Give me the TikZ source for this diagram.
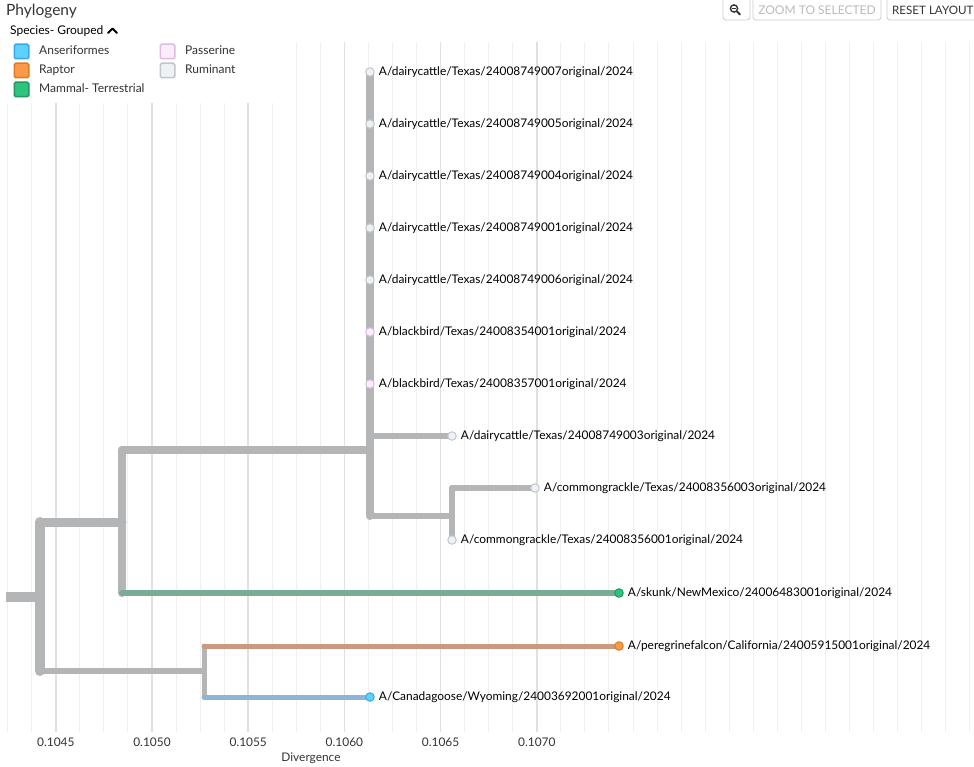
\documentclass[tikz,border=0pt]{standalone}
\usepackage{fontspec}
\setmainfont{Lato}
\usetikzlibrary{positioning}

\definecolor{textdark}{HTML}{333333}
\definecolor{branchgray}{HTML}{B4B5B7}
\definecolor{minorline}{HTML}{F0F0F0}
\definecolor{majorline}{HTML}{E0E0E0}
\definecolor{skunkbr}{HTML}{79AC94}
\definecolor{falconbr}{HTML}{C99A7E}
\definecolor{goosebr}{HTML}{8CB6D6}
\definecolor{anserfill}{HTML}{5ED1FC}
\definecolor{anserline}{HTML}{3BA8E8}
\definecolor{raptorfill}{HTML}{F89A48}
\definecolor{raptorline}{HTML}{E07A28}
\definecolor{mammalfill}{HTML}{2EC47E}
\definecolor{mammalline}{HTML}{1F9A5E}
\definecolor{passfill}{HTML}{FCEDFC}
\definecolor{passline}{HTML}{DDBDE2}
\definecolor{rumfill}{HTML}{EEF2F6}
\definecolor{rumline}{HTML}{C3C7CB}
\definecolor{btnline}{HTML}{CCCCCC}
\definecolor{btnoff}{HTML}{BBBBBB}

\tikzset{
  branch/.style={line width=#1, draw=branchgray, line cap=round},
  tipdot/.style 2 args={circle, fill=#1, draw=#2, line width=1pt, minimum size=8.5pt, inner sep=0pt},
  tiplbl/.style={font=\fontsize{11.9}{14}\selectfont, text=black, inner sep=0pt},
  swatch/.style 2 args={rectangle, rounded corners=1.5pt, fill=#1, draw=#2, line width=1.5pt, minimum size=14.5pt, inner sep=0pt},
  leglbl/.style={font=\fontsize{12}{14}\selectfont, text=textdark, inner sep=0pt, text height=8.5pt, text depth=2pt},
  btnbox/.style={draw=btnline, line width=0.8pt, rounded corners=3pt},
  btnlbl/.style={font=\fontsize{12}{14}\selectfont, inner sep=0pt}
}

\begin{document}
\begin{tikzpicture}[x=1pt,y=-1pt]
\useasboundingbox (0,0) rectangle (974,767);
\clip (0,0) rectangle (974,767);
\fill[white] (0,0) rectangle (974,767);

% grid
\foreach \i in {0,...,40} {
  \pgfmathsetmacro\gx{7.7+24.05*\i}
  \draw[minorline, line width=1pt] (\gx,42) -- (\gx,732);
}
\foreach \i/\val in {2/0.1045,6/0.1050,10/0.1055,14/0.1060,18/0.1065,22/0.1070} {
  \pgfmathsetmacro\gx{7.7+24.05*\i}
  \draw[majorline, line width=1.6pt] (\gx,42) -- (\gx,732);
  \node[tiplbl, text=textdark] (ax\i) at (\gx,742) {\val};
}
\node[tiplbl, text=textdark] (axtitle) at (311,758) {Divergence};

% legend background
\fill[white] (0,40) rectangle (290,103);

% title and legend
\node[anchor=base west, inner sep=0pt, text=textdark, font=\fontsize{15.5}{18}\selectfont] (title) at (6,16) {Phylogeny};
\node[anchor=base west, leglbl, text=black] (grp) at (10,35) {Species- Grouped};
\draw[black, line width=2pt, line cap=round, line join=round] (108,33) -- (112.5,28.5) -- (117,33);

\node[swatch={anserfill}{anserline}] (sw1) at (21.5,51.5) {};
\node[leglbl, right=9.5pt of sw1] (lg1) {Anseriformes};
\node[swatch={raptorfill}{raptorline}] (sw2) at (21.5,70.5) {};
\node[leglbl, right=9.5pt of sw2] (lg2) {Raptor};
\node[swatch={mammalfill}{mammalline}] (sw3) at (21.5,89.5) {};
\node[leglbl, right=9.5pt of sw3] (lg3) {Mammal- Terrestrial};
\node[swatch={passfill}{passline}] (sw4) at (167.5,51.5) {};
\node[leglbl, right=9.5pt of sw4] (lg4) {Passerine};
\node[swatch={rumfill}{rumline}] (sw5) at (167.5,70.5) {};
\node[leglbl, right=9.5pt of sw5] (lg5) {Ruminant};

% buttons
\draw[btnbox] (723,-4) rectangle (750,20);
\draw[textdark, line width=1.4pt] (734,8.5) circle (3.6);
\draw[textdark, line width=1.2pt] (732,8.5) -- (736,8.5);
\draw[textdark, line width=2pt, line cap=round] (737,11.5) -- (739.8,14.3);
\draw[btnbox] (753,-4) rectangle (881,20);
\node[btnlbl, text=btnoff] (zoomsel) at (817,10.5) {ZOOM TO SELECTED};
\draw[btnbox] (887,-4) rectangle (1000,20);
\node[btnlbl, text=textdark, anchor=west, font=\fontsize{11.6}{14}\selectfont] (reset) at (892,10.5) {RESET LAYOUT};

% tree points
\coordinate (r0) at (6,597);
\coordinate (nA) at (40,597);
\coordinate (nB) at (122,522);
\coordinate (nC) at (370,450);
\coordinate (nD) at (204,671);
\coordinate (nE) at (452,516);
\coordinate (t1) at (370,72);
\coordinate (t2) at (370,124);
\coordinate (t3) at (370,176);
\coordinate (t4) at (370,228);
\coordinate (t5) at (370,280);
\coordinate (t6) at (370,332);
\coordinate (t7) at (370,384);
\coordinate (t8) at (452,436);
\coordinate (t9) at (535,488);
\coordinate (t10) at (452,540);
\coordinate (t11) at (619,593);
\coordinate (t12) at (619,646);
\coordinate (t13) at (370,697);

% branches
\draw[branch=10pt, line cap=butt] (r0) -- (nA);
\draw[branch=10pt] (nA |- nB) -- (nA |- nD);
\draw[branch=9pt] (nA |- nB) -- (nB);
\draw[branch=8pt] (nB |- nC) -- (nB |- t11);
\draw[branch=8pt] (nB |- nC) -- (nC);
\draw[branch=8pt] (nC |- t1) -- (nC |- nE);
\draw[branch=5.5pt] (nC |- t8) -- (t8);
\draw[branch=6pt] (nC |- nE) -- (nE);
\draw[branch=6pt] (nE |- t9) -- (t10);
\draw[branch=5.5pt] (nE |- t9) -- (t9);
\draw[branch=6pt, draw=skunkbr] (nB |- t11) -- (t11);
\draw[branch=6pt] (nA |- nD) -- (nD);
\draw[branch=5pt] (nD |- t12) -- (nD |- t13);
\draw[branch=5pt, draw=falconbr] (nD |- t12) -- (t12);
\draw[branch=5pt, draw=goosebr] (nD |- t13) -- (t13);

% tips
\node[tipdot={rumfill}{rumline}] (d1) at (t1) {};
\node[tiplbl, right=4pt of d1] (l1) {A/dairycattle/Texas/24008749007original/2024};
\node[tipdot={rumfill}{rumline}] (d2) at (t2) {};
\node[tiplbl, right=4pt of d2] (l2) {A/dairycattle/Texas/24008749005original/2024};
\node[tipdot={rumfill}{rumline}] (d3) at (t3) {};
\node[tiplbl, right=4pt of d3] (l3) {A/dairycattle/Texas/24008749004original/2024};
\node[tipdot={rumfill}{rumline}] (d4) at (t4) {};
\node[tiplbl, right=4pt of d4] (l4) {A/dairycattle/Texas/24008749001original/2024};
\node[tipdot={rumfill}{rumline}] (d5) at (t5) {};
\node[tiplbl, right=4pt of d5] (l5) {A/dairycattle/Texas/24008749006original/2024};
\node[tipdot={passfill}{passline}] (d6) at (t6) {};
\node[tiplbl, right=4pt of d6] (l6) {A/blackbird/Texas/24008354001original/2024};
\node[tipdot={passfill}{passline}] (d7) at (t7) {};
\node[tiplbl, right=4pt of d7] (l7) {A/blackbird/Texas/24008357001original/2024};
\node[tipdot={rumfill}{rumline}] (d8) at (t8) {};
\node[tiplbl, right=4pt of d8] (l8) {A/dairycattle/Texas/24008749003original/2024};
\node[tipdot={rumfill}{rumline}] (d9) at (t9) {};
\node[tiplbl, right=4pt of d9] (l9) {A/commongrackle/Texas/24008356003original/2024};
\node[tipdot={rumfill}{rumline}] (d10) at (t10) {};
\node[tiplbl, right=4pt of d10] (l10) {A/commongrackle/Texas/24008356001original/2024};
\node[tipdot={mammalfill}{mammalline}] (d11) at (t11) {};
\node[tiplbl, right=4pt of d11] (l11) {A/skunk/NewMexico/24006483001original/2024};
\node[tipdot={raptorfill}{raptorline}] (d12) at (t12) {};
\node[tiplbl, right=4pt of d12] (l12) {A/peregrinefalcon/California/24005915001original/2024};
\node[tipdot={anserfill}{anserline}] (d13) at (t13) {};
\node[tiplbl, right=4pt of d13] (l13) {A/Canadagoose/Wyoming/24003692001original/2024};
\end{tikzpicture}
\end{document}
